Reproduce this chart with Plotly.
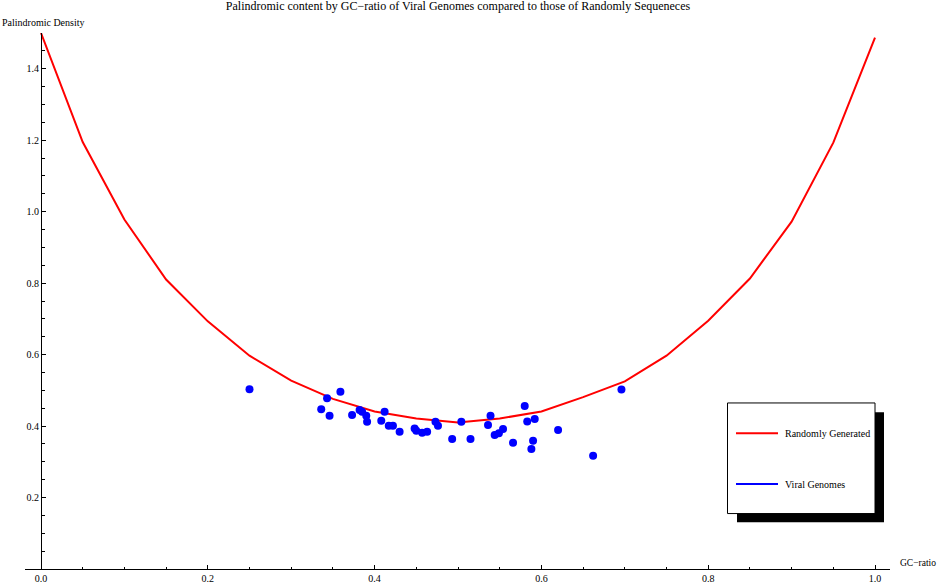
import plotly.graph_objects as go

# Randomly generated sequences curve
gc_random = [0.0, 0.05, 0.10, 0.15, 0.20, 0.25, 0.30, 0.35, 0.40, 0.45, 0.50,
             0.55, 0.60, 0.65, 0.70, 0.75, 0.80, 0.85, 0.90, 0.95, 1.0]
dens_random = [1.50, 1.195, 0.978, 0.810, 0.693, 0.597, 0.527, 0.476, 0.441, 0.421, 0.410,
               0.421, 0.441, 0.481, 0.525, 0.597, 0.695, 0.813, 0.972, 1.193, 1.487]

# Viral genomes
gc_viral = [0.250, 0.343, 0.359, 0.336, 0.346, 0.373, 0.382, 0.385, 0.390, 0.391,
            0.412, 0.408, 0.417, 0.422, 0.430, 0.448, 0.450, 0.457, 0.463, 0.473,
            0.476, 0.493, 0.504, 0.515, 0.539, 0.536, 0.554, 0.549, 0.544, 0.566,
            0.580, 0.583, 0.592, 0.590, 0.588, 0.620, 0.662, 0.696]
dens_viral = [0.503, 0.478, 0.496, 0.447, 0.429, 0.431, 0.445, 0.440, 0.429, 0.412,
              0.440, 0.415, 0.401, 0.401, 0.384, 0.393, 0.387, 0.381, 0.384, 0.412,
              0.401, 0.364, 0.412, 0.364, 0.429, 0.403, 0.392, 0.380, 0.375, 0.353,
              0.456, 0.413, 0.420, 0.359, 0.336, 0.389, 0.317, 0.502]

x_ticks = [0.0, 0.2, 0.4, 0.6, 0.8, 1.0]
x_ticktext = ["0.0", "0.2", "0.4", "0.6", "0.8", "1.0"]
y_ticks = [0.2, 0.4, 0.6, 0.8, 1.0, 1.2, 1.4]
y_ticktext = ["0.2", "0.4", "0.6", "0.8", "1.0", "1.2", "1.4"]

W, H = 939, 585
# plot area in page pixels
L, R, T, B = 25, 890, 33, 569.5

def px(x):
    return (x - L) / (R - L)

def py(y):
    return (B - y) / (B - T)

serif = "Liberation Serif"

fig = go.Figure()
fig.add_trace(go.Scatter(x=gc_random, y=dens_random, mode="lines",
                         line=dict(color="rgb(255,0,0)", width=2),
                         name="Randomly Generated", showlegend=False))
fig.add_trace(go.Scatter(x=gc_viral, y=dens_viral, mode="markers",
                         marker=dict(color="rgb(0,0,255)", size=8),
                         name="Viral Genomes", showlegend=False))

xr0 = (L - 41) / 834
xr1 = (R - 41) / 834

fig.update_layout(
    width=W, height=H,
    margin=dict(l=L, r=W - R, t=T, b=H - B, autoexpand=False),
    paper_bgcolor="white", plot_bgcolor="white",
    showlegend=False,
    title=dict(text="Palindromic content by GC\u2212ratio of Viral Genomes compared to those of Randomly Sequeneces",
               x=458 / W, xanchor="center", xref="container",
               y=1 - 2 / H, yanchor="top", yref="container",
               font=dict(family=serif, size=12, color="black")),
    xaxis=dict(range=[xr0, xr1], showgrid=False, zeroline=False,
               showline=True, linecolor="black", linewidth=1,
               tickmode="array", tickvals=x_ticks, ticktext=x_ticktext,
               ticks="inside", ticklen=4, tickcolor="black",
               minor=dict(tickmode="array",
                          tickvals=[i * 0.05 for i in range(21)],
                          ticks="inside", ticklen=2.5, tickcolor="black"),
               tickfont=dict(family=serif, size=10, color="black"),
               automargin=False, fixedrange=True),
    yaxis=dict(range=[0, 1.5], showgrid=False, zeroline=False,
               showline=True, linecolor="black", linewidth=1,
               anchor="free", position=(41 - L) / (R - L),
               tickmode="array", tickvals=y_ticks, ticktext=y_ticktext,
               ticks="inside", ticklen=4, tickcolor="black",
               minor=dict(tickmode="array",
                          tickvals=[i * 0.05 for i in range(1, 31)],
                          ticks="inside", ticklen=2.5, tickcolor="black"),
               tickfont=dict(family=serif, size=10, color="black"),
               automargin=False, fixedrange=True),
)

# axis labels
fig.add_annotation(text="Palindromic Density", xref="paper", yref="paper",
                   x=px(0), y=py(22), xanchor="left", yanchor="middle",
                   showarrow=False, font=dict(family=serif, size=10, color="black"))
fig.add_annotation(text="GC\u2212ratio", xref="paper", yref="paper",
                   x=px(898), y=py(563), xanchor="left", yanchor="middle",
                   showarrow=False, font=dict(family=serif, size=9.5, color="black"))

# legend box with shadow
fig.add_shape(type="rect", xref="paper", yref="paper",
              x0=px(737), x1=px(884), y0=py(522.7), y1=py(412.7),
              fillcolor="black", line=dict(width=0))
fig.add_shape(type="rect", xref="paper", yref="paper",
              x0=px(727.5), x1=px(875), y0=py(514), y1=py(403.3),
              fillcolor="white", line=dict(color="black", width=1))
fig.add_shape(type="line", xref="paper", yref="paper",
              x0=px(736), x1=px(778), y0=py(433.7), y1=py(433.7),
              line=dict(color="rgb(255,0,0)", width=2))
fig.add_shape(type="line", xref="paper", yref="paper",
              x0=px(736), x1=px(778), y0=py(484.3), y1=py(484.3),
              line=dict(color="rgb(0,0,255)", width=2))
fig.add_annotation(text="Randomly Generated", xref="paper", yref="paper",
                   x=px(783), y=py(434), xanchor="left", yanchor="middle",
                   showarrow=False, font=dict(family=serif, size=10, color="black"))
fig.add_annotation(text="Viral Genomes", xref="paper", yref="paper",
                   x=px(783), y=py(484.5), xanchor="left", yanchor="middle",
                   showarrow=False, font=dict(family=serif, size=10, color="black"))

# remove the default page margin so the figure fills the window exactly
fig.write_html("out.html", config={"displayModeBar": False},
               post_script="document.body.style.margin='0px';")
